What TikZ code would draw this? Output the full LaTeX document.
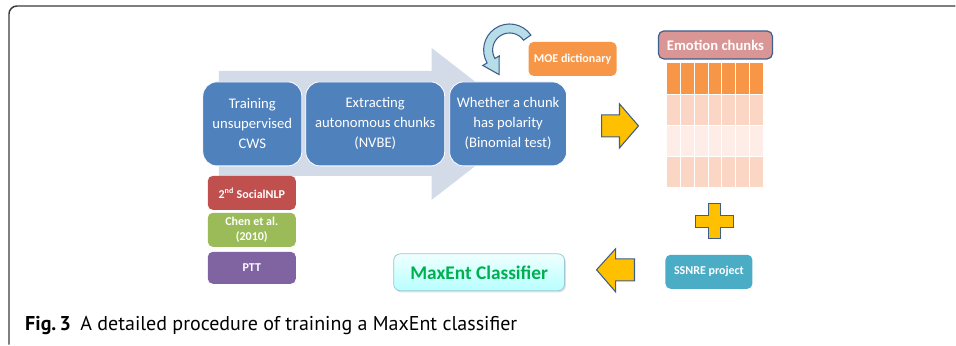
\documentclass[tikz,border=0pt]{standalone}
\usepackage{fontspec}
\setmainfont{Carlito}
\newfontfamily\capfont{PT Sans}
\usetikzlibrary{shadows}

\definecolor{stepblue}{HTML}{4F81BD}
\definecolor{flowgray}{HTML}{D3DBE9}
\definecolor{srcred}{HTML}{C0504D}
\definecolor{srcgreen}{HTML}{9BBB59}
\definecolor{srcpurple}{HTML}{8064A2}
\definecolor{dictorange}{HTML}{F79646}
\definecolor{loopfill}{HTML}{B7DDE8}
\definecolor{edgenavy}{HTML}{3E5E8C}
\definecolor{headpink}{HTML}{D99694}
\definecolor{chunkA}{HTML}{F79646}
\definecolor{chunkB}{HTML}{FBD6C5}
\definecolor{chunkC}{HTML}{FDEDE6}
\definecolor{plusyellow}{HTML}{FFC000}
\definecolor{ssnreteal}{HTML}{4BACC6}
\definecolor{maxgreen}{HTML}{00B050}
\definecolor{framegray}{HTML}{3A3A3A}

\begin{document}
\begin{tikzpicture}[x=0.75pt,y=-0.75pt,
                    every node/.style={inner sep=0pt},
                    procbox/.style={draw=white,line width=0.6pt,fill=stepblue,
                      rounded corners=10.5pt,text=white,align=center,
                      minimum height=63pt,font=\fontsize{11}{15}\selectfont},
                    srcbox/.style={fill=#1,rounded corners=3.75pt,text=white,
                      align=center,minimum width=66pt,
                      font=\bfseries\fontsize{9}{11}\selectfont},
                    tagbox/.style={fill=#1,rounded corners=3.75pt,text=white,
                      minimum height=25.5pt,font=\bfseries\fontsize{9}{11}\selectfont},
                    yellowshape/.style={fill=plusyellow,draw=edgenavy,line width=0.8pt}]
      % frame of the figure
      \draw[framegray,line width=1.1pt,rounded corners=6pt]
            (9,345) -- (9,6) -- (956,6);
      \useasboundingbox (0,0) rectangle (956,345);

      % big flow arrow behind the steps
      \fill[flowgray] (219,71) -- (432,71) -- (432,48) -- (530,124)
            -- (432,200) -- (432,176) -- (219,176) -- cycle;

      % three steps
      \node[procbox,minimum width=74.25pt]  (cws)    at (252.5,124)
            {Training\\unsupervised\\CWS};
      \node[procbox,minimum width=104.25pt] (nvbe)   at (375.5,124)
            {Extracting\\autonomous chunks\\(NVBE)};
      \node[procbox,minimum width=87.75pt]  (binom)  at (508.5,124)
            {Whether a chunk\\has polarity\\(Binomial test)};

      % training corpora
      \node[srcbox=srcred,minimum height=25.5pt]    (social) at (252,193)
            {2\textsuperscript{nd} SocialNLP};
      \node[srcbox=srcgreen,minimum height=25.5pt]  (chen)   at (252,230)
            {Chen et al.\\(2010)};
      \node[srcbox=srcpurple,minimum height=24pt]   (ptt)    at (252,268)
            {PTT};

      % dictionary and loop arrow
      \node[tagbox=dictorange,minimum width=66pt] (moe) at (573,59) {MOE dictionary};
      \coordinate (hub) at (510,50);
      \draw[fill=loopfill,draw=edgenavy,line width=0.8pt]
            (hub) ++(-35:26) arc[start angle=-35,end angle=-210,radius=26]
            -- ([shift={(-210:31)}]hub) -- ([shift={(113.3:26.8)}]hub)
            -- ([shift={(-210:12)}]hub) -- ([shift={(-210:17)}]hub)
            arc[start angle=-210,end angle=-35,radius=17] -- cycle;

      % to the emotion chunks
      \draw[yellowshape] (602,115) -- (620,115) -- (620,104) -- (639,126)
            -- (620,148) -- (620,137) -- (602,137) -- cycle;

      \node[fill=headpink,draw=edgenavy,line width=0.9pt,rounded corners=4pt,
            text=white,minimum width=85.5pt,minimum height=21pt,
            font=\bfseries\fontsize{11}{13}\selectfont] (emo) at (716,45) {Emotion chunks};
      \coordinate (grid) at (667,63);
      \foreach \shade [count=\i from 0] in {chunkA,chunkB,chunkC,chunkB}
        \foreach \col in {0,...,6}
          \filldraw[fill=\shade,draw=white,line width=0.7pt]
            ([shift={(\col*13.86,\i*31.25)}]grid) rectangle ++(13.86,31.25);

      % plus sign
      \draw[yellowshape] (709,204) -- (721,204) -- (721,216) -- (734,216)
            -- (734,228) -- (721,228) -- (721,239) -- (709,239) -- (709,228)
            -- (696,228) -- (696,216) -- (709,216) -- cycle;

      \node[tagbox=ssnreteal,minimum width=65.25pt] (ssnre) at (709.5,272) {SSNRE project};

      % back to the classifier
      \draw[yellowshape] (635,259) -- (616,259) -- (616,249) -- (597,270)
            -- (616,292) -- (616,281) -- (635,281) -- cycle;

      \node[top color=cyan!6,bottom color=cyan!28!white,draw=cyan!45!gray!60,
            line width=0.6pt,rounded corners=5pt,
            drop shadow={opacity=0.25,shadow xshift=1pt,shadow yshift=-1.2pt},
            text=maxgreen,minimum width=128.25pt,minimum height=27.75pt,
            font=\bfseries\fontsize{14.5}{16}\selectfont] (maxent) at (479.5,272.5)
            {MaxEnt Classifier};

      % caption
      \node[anchor=base west,font=\capfont\fontsize{15}{17}\selectfont] (caption)
            at (25,331) {\textbf{Fig.\,3}\hspace{7pt}A detailed procedure of training a MaxEnt classifier};
 \end{tikzpicture}
\end{document}
